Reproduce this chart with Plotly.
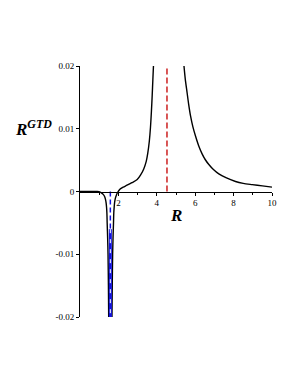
import plotly.graph_objects as go

# Left flat part + left side of the dip
x_left = [0.0, 0.5, 0.9, 1.05, 1.15, 1.22, 1.28, 1.33, 1.36, 1.385, 1.40, 1.415, 1.44, 1.46, 1.48, 1.495]
y_left = [0.0, 0.0, 0.0, -0.0001, -0.0003, -0.0005, -0.0008, -0.0013, -0.0018, -0.0026, -0.0034, -0.005, -0.0075, -0.01, -0.015, -0.02]

# Right side of dip rising to the second asymptote
x_mid = [1.665, 1.68, 1.70, 1.72, 1.745, 1.76, 1.78, 1.80, 1.84, 1.88, 1.95, 2.09, 2.25, 2.45, 2.7, 2.98, 3.15, 3.32, 3.45, 3.53, 3.61, 3.67, 3.72, 3.76, 3.795, 3.83]
y_mid = [-0.02, -0.015, -0.01, -0.0075, -0.005, -0.0034, -0.0025, -0.0018, -0.0011, -0.0007, -0.0002, 0.0004, 0.0007, 0.001, 0.0014, 0.0019, 0.0026, 0.0036, 0.0048, 0.0061, 0.008, 0.0102, 0.0128, 0.0153, 0.0178, 0.0203]

# Right branch decaying
x_right = [5.41, 5.48, 5.58, 5.66, 5.76, 5.88, 6.02, 6.18, 6.36, 6.52, 6.71, 6.95, 7.23, 7.6, 8.1, 8.5, 8.97, 9.5, 10.0]
y_right = [0.0202, 0.018, 0.0157, 0.0139, 0.012, 0.0103, 0.0088, 0.0073, 0.006, 0.0051, 0.0043, 0.0035, 0.0028, 0.0022, 0.0016, 0.0013, 0.0011, 0.0009, 0.0007]

asym_blue = 1.58
asym_red = 4.53

x_ticks = [2, 4, 6, 8, 10]
y_ticks = [-0.02, -0.01, 0, 0.01, 0.02]
y_tick_text = ["-0.02", "-0.01", "0", "0.01", "0.02"]

fig = go.Figure()
blk = dict(color="black", width=1.4)
fig.add_trace(go.Scatter(x=x_left, y=y_left, mode="lines", line=dict(blk, shape="spline", smoothing=0.8)))
fig.add_trace(go.Scatter(x=x_mid, y=y_mid, mode="lines", line=dict(blk, shape="spline", smoothing=0.8)))
fig.add_trace(go.Scatter(x=x_right, y=y_right, mode="lines", line=dict(blk, shape="spline", smoothing=0.8)))

# blue asymptote
fig.add_trace(go.Scatter(x=[asym_blue, asym_blue], y=[-0.006, -0.02], mode="lines",
                         line=dict(color="#1010e0", width=3)))
fig.add_trace(go.Scatter(x=[asym_blue, asym_blue], y=[-0.006, -0.02], mode="lines",
                         line=dict(color="white", width=1, dash="4px,6px")))
fig.add_trace(go.Scatter(x=[asym_blue, asym_blue], y=[0, -0.006], mode="lines",
                         line=dict(color="#1010e0", width=1.5, dash="5px,3px")))
# red asymptote
fig.add_trace(go.Scatter(x=[asym_red, asym_red], y=[0, 0.02], mode="lines",
                         line=dict(color="#cc2020", width=1.5, dash="6px,3px")))

fig.update_layout(
    width=290, height=377,
    margin=dict(l=72, r=26, t=58, b=68),
    plot_bgcolor="white", paper_bgcolor="white",
    showlegend=False,
    font=dict(family="Liberation Serif", size=9, color="black"),
    xaxis=dict(range=[0, 10], tickvals=x_ticks, ticktext=[str(t) for t in x_ticks],
               showgrid=False, zeroline=False, showline=True, linecolor="black", linewidth=1,
               ticks="outside", ticklen=3, tickcolor="black",
               anchor="free", position=0.5,
               minor=dict(tickvals=[1, 3, 5, 7, 9], ticks="outside", ticklen=2, tickcolor="black"),
               tickfont=dict(family="Liberation Serif", size=9)),
    yaxis=dict(range=[-0.02, 0.02], tickvals=y_ticks, ticktext=y_tick_text,
               showgrid=False, zeroline=False, showline=True, linecolor="black", linewidth=1,
               ticks="outside", ticklen=3, tickcolor="black",
               tickfont=dict(family="Liberation Serif", size=9)),
    annotations=[
        dict(text="<b><i>R<sup>GTD</sup></i></b>", xref="paper", yref="paper", x=-0.24, y=0.753,
             showarrow=False, font=dict(family="Liberation Serif", size=17), xanchor="center", yanchor="middle"),
        dict(text="<b><i>R</i></b>", xref="x", yref="y", x=5.0, y=-0.0039,
             showarrow=False, font=dict(family="Liberation Serif", size=17), xanchor="center", yanchor="middle"),
    ],
)

fig.write_html("out.html")
